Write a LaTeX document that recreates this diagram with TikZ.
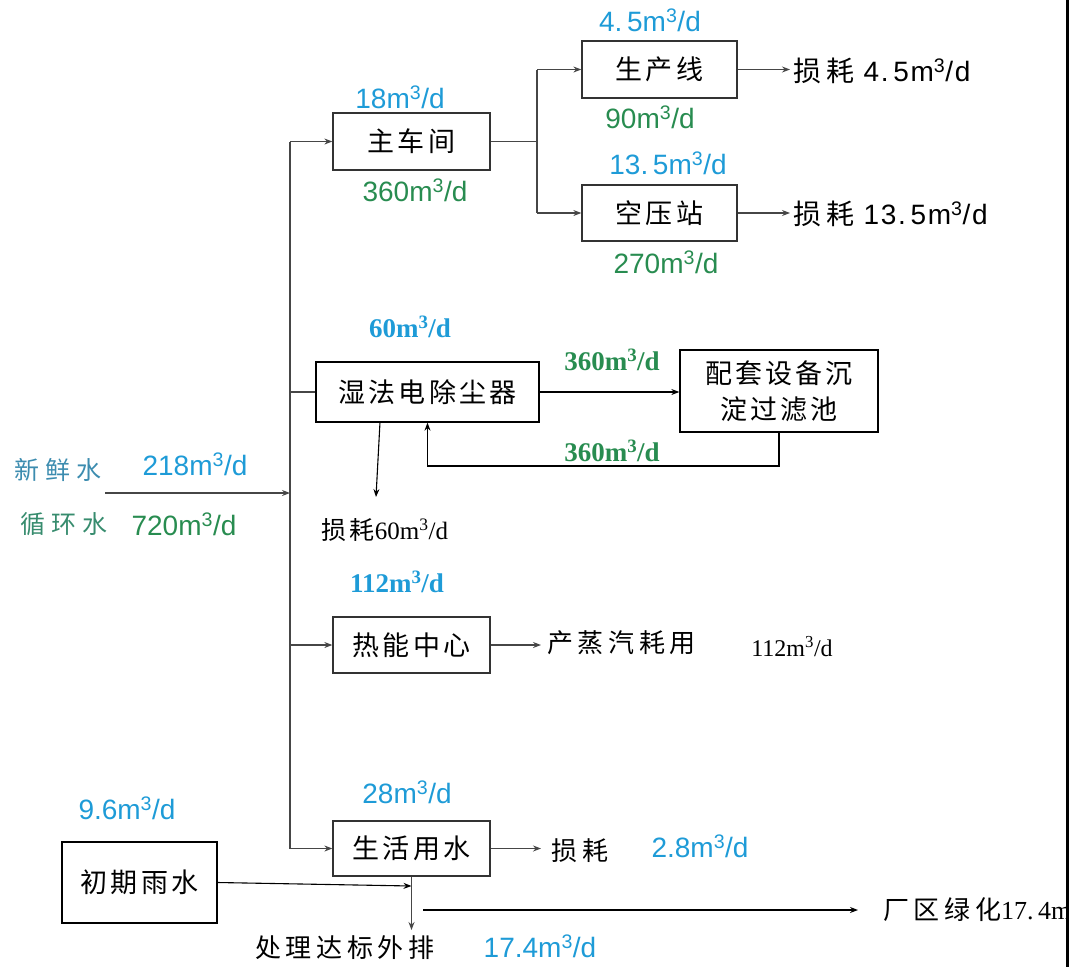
\documentclass[tikz,border=0pt]{standalone}
\usepackage{fontspec}
\setmainfont{Liberation Sans}
\newfontfamily\zhf{Noto Sans CJK SC}[LetterSpace=12]
\newfontfamily\zhs{Noto Sans CJK SC}[LetterSpace=18]
\newfontfamily\zhw{Noto Sans CJK SC}[LetterSpace=25]
\newfontfamily\wsans{Liberation Sans}[LetterSpace=6]
\newfontfamily\serf{Liberation Serif}
\usetikzlibrary{arrows.meta,calc}
\definecolor{lblue}{RGB}{30,155,215}
\definecolor{lgreen}{RGB}{40,140,80}
\definecolor{sblue}{RGB}{60,140,175}
\definecolor{sgreen}{RGB}{55,140,110}
\definecolor{lncol}{RGB}{70,70,70}
\newcommand{\mcu}{m\textsuperscript{3}/d}
\begin{document}
\begin{tikzpicture}[x=1pt,y=-1pt,
  boxn/.style={draw=black!80,line width=1.3pt,inner sep=0pt,font=\fontsize{27}{30}\zhf},
  flow/.style={draw=lncol,line width=1.1pt,-{Stealth[length=8pt,width=6pt]}},
  ln/.style={draw=lncol,line width=1.1pt},
  num/.style={inner sep=0pt,font=\fontsize{28}{30}\selectfont},
  lnum/.style={inner sep=0pt,font=\fontsize{28}{30}\wsans},
  snum/.style={inner sep=0pt,font=\fontsize{27}{30}\serf\bfseries},
  txt/.style={inner sep=0pt,font=\fontsize{26}{30}\zhs}]
\useasboundingbox (0,0) rectangle (1074,967);
% boxes
\node[boxn,minimum width=157pt,minimum height=57pt] (zcj) at (411.5,141.5) {主车间};
\node[boxn,minimum width=155pt,minimum height=57pt] (scx) at (659.5,69.5) {生产线};
\node[boxn,minimum width=155pt,minimum height=56pt] (kyz) at (659.5,213) {空压站};
\node[boxn,draw=black,minimum width=223pt,minimum height=60pt] (sf) at (427.5,392) {湿法电除尘器};
\node[boxn,draw=black,minimum width=198pt,minimum height=82pt,align=center,font=\fontsize{27}{36}\zhf] (pt) at (779,391) {配套设备沉\\淀过滤池};
\node[boxn,minimum width=157pt,minimum height=56pt] (rn) at (411.5,645) {热能中心};
\node[boxn,minimum width=157pt,minimum height=55pt] (sh) at (411.5,848.5) {生活用水};
\node[boxn,draw=black,minimum width=155pt,minimum height=81pt] (cq) at (139.5,882.5) {初期雨水};
% coordinates
\coordinate (t1) at (290,141.5);
\coordinate (t2) at (290,848.5);
\coordinate (inS) at (105,493);
\coordinate (inE) at (290,493);
\coordinate (b1) at (537,141.5);
\coordinate (b2) at (537,69.5);
\coordinate (b3) at (537,213);
\coordinate (l1) at (790,69.5);
\coordinate (l2) at (790,213);
\coordinate (ret) at (427.5,466);
\coordinate (sfl) at (380,422);
\coordinate (los) at (376,497);
\coordinate (rnE) at (541,645);
\coordinate (shE) at (541,848.5);
\coordinate (jn) at (411.5,886);
\coordinate (dn) at (411.5,930);
\coordinate (gS) at (423,910);
\coordinate (gE) at (858,910);
% trunk and connectors
\draw[ln] (t1) -- (t2);
\draw[flow] (inS) -- (inE);
\draw[flow] (t1) -- (zcj.west);
\draw[ln] (t1 |- sf.west) -- (sf.west);
\draw[flow] (t1 |- rn.west) -- (rn.west);
\draw[flow] (t2) -- (sh.west);
\draw[ln] (zcj.east) -- (b1);
\draw[ln] (b2) -- (b3);
\draw[flow] (b2) -- (scx.west);
\draw[flow] (b3) -- (kyz.west);
\draw[flow] (scx.east) -- (l1);
\draw[flow] (kyz.east) -- (l2);
\draw[flow,draw=black] (sf.east) -- (sf.east -| pt.west);
\draw[flow,draw=black] (pt.south) |- (ret) -- (sf.south);
\draw[flow,draw=black] (sfl) -- (los);
\draw[flow] (rn.east) -- (rnE);
\draw[flow] (sh.east) -- (shE);
\draw[flow,draw=black] (cq.east) -- (jn);
\draw[flow] (sh.south) -- (dn);
\draw[flow,draw=black] (gS) -- (gE);
\draw[line width=3pt] (1067,0) -- (1067,967);
% labels
\node[num,text=lblue] (a1) at (400,97) {18\mcu};
\node[num,text=lgreen] (a2) at (415,190) {360\mcu};
\node[num,text=lblue] (a3) at (650,20) {4.\,5\mcu};
\node[num,text=lgreen] (a4) at (650,117) {90\mcu};
\node[num,text=lblue] (a5) at (668,163) {13.\,5\mcu};
\node[num,text=lgreen] (a6) at (666,262) {270\mcu};
\node[lnum,anchor=west] (a7) at (793,71) {{\zhs 损耗} 4.\,5\mcu};
\node[lnum,anchor=west] (a8) at (793,214) {{\zhs 损耗} 13.\,5\mcu};
\node[snum,text=lblue] (a9) at (410,327) {60\mcu};
\node[snum,text=lgreen] (a10) at (612,360) {360\mcu};
\node[snum,text=lgreen] (a11) at (612,451) {360\mcu};
\node[inner sep=0pt,font=\fontsize{25}{30}\serf] (a12) at (385,530) {{\zhf 损耗}60\mcu};
\node[snum,text=lblue] (a13) at (397,582) {112\mcu};
\node[txt,anchor=west] (a14) at (547,643) {产蒸汽耗用};
\node[inner sep=0pt,font=\fontsize{24}{28}\serf] (a15) at (792,647) {112\mcu};
\node[num,text=lblue] (a16) at (407,792) {28\mcu};
\node[txt] (a17) at (580,851) {损耗};
\node[num,text=lblue] (a18) at (700,846) {2.8\mcu};
\node[num,text=lblue] (a19) at (127,808) {9.6\mcu};
\node[txt,font=\fontsize{25}{30}\zhw,text=sblue] (a20) at (58,470) {新鲜水};
\node[num,text=lblue] (a21) at (195,464) {218\mcu};
\node[txt,font=\fontsize{25}{30}\zhw,text=sgreen] (a22) at (64,524) {循环水};
\node[num,text=lgreen] (a23) at (184,524) {720\mcu};
\node[txt] (a24) at (345,948) {处理达标外排};
\node[num,text=lblue] (a25) at (540,946) {17.4\mcu};
\begin{scope}
\clip (860,880) rectangle (1065,940);
\node[txt,anchor=west] (a26) at (883,910) {厂区绿化{\serf 17.\,4\mcu}};
\end{scope}
\end{tikzpicture}
\end{document}
